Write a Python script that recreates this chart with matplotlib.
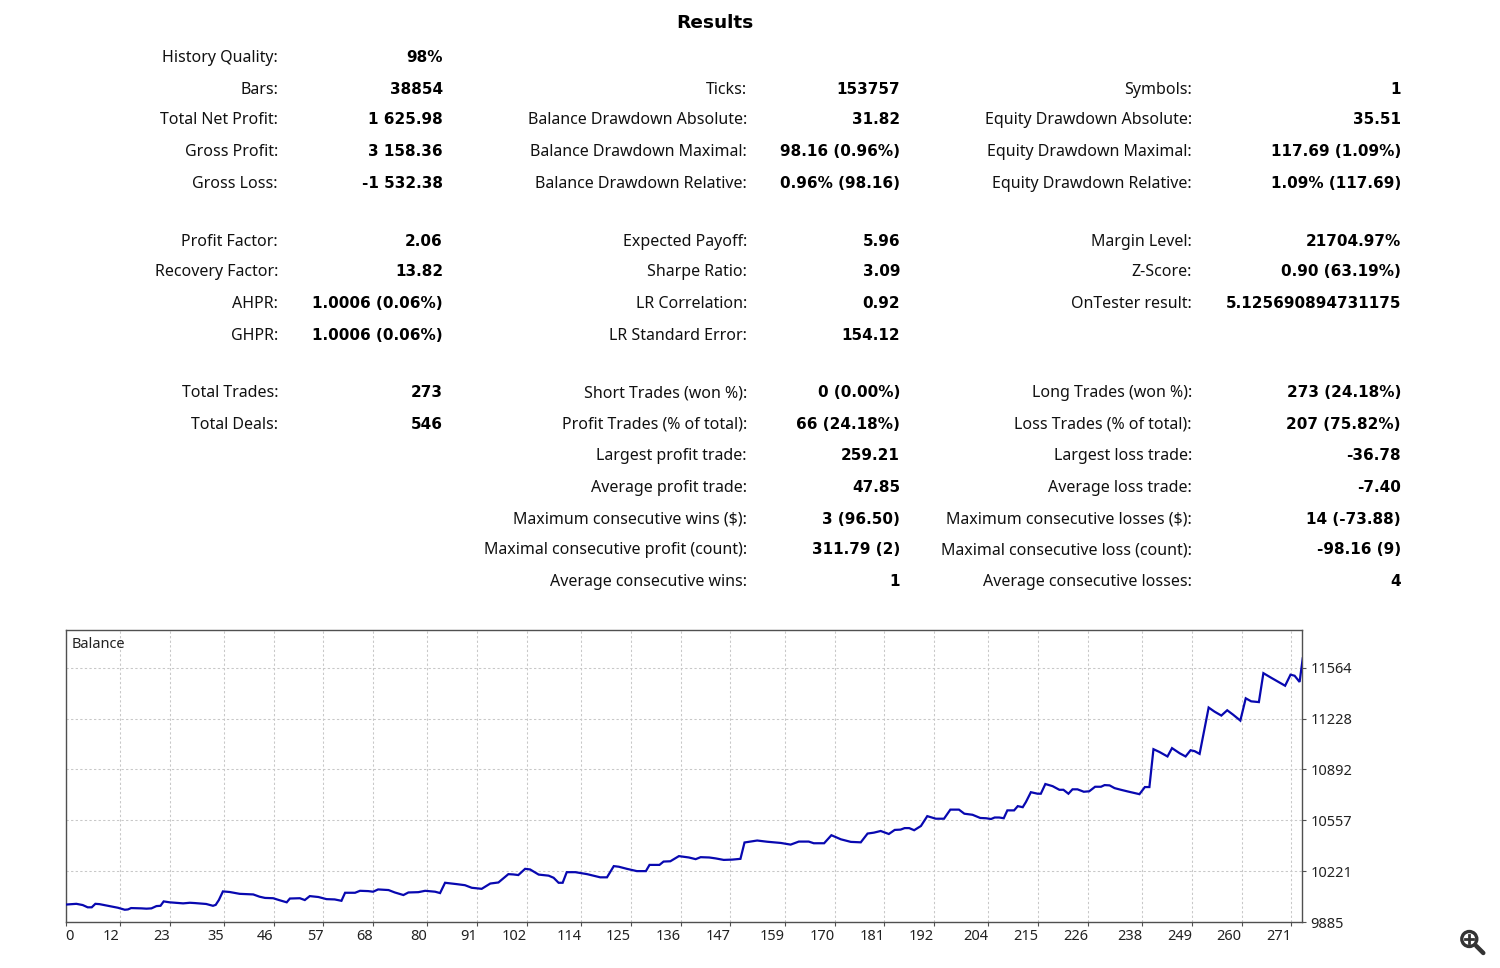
import matplotlib
matplotlib.use("Agg")
import matplotlib.pyplot as plt
from matplotlib.patches import Circle
from matplotlib.lines import Line2D

# ---------------- data ----------------
title = "Results"

col1_labels = ["History Quality:", "Bars:", "Total Net Profit:", "Gross Profit:", "Gross Loss:",
               "Profit Factor:", "Recovery Factor:", "AHPR:", "GHPR:",
               "Total Trades:", "Total Deals:"]
col1_values = ["98%", "38854", "1 625.98", "3 158.36", "-1 532.38",
               "2.06", "13.82", "1.0006 (0.06%)", "1.0006 (0.06%)",
               "273", "546"]
col1_rows = [0, 1, 2, 3, 4, 5, 6, 7, 8, 9, 10]

col2_labels = ["Ticks:", "Balance Drawdown Absolute:", "Balance Drawdown Maximal:", "Balance Drawdown Relative:",
               "Expected Payoff:", "Sharpe Ratio:", "LR Correlation:", "LR Standard Error:",
               "Short Trades (won %):", "Profit Trades (% of total):", "Largest profit trade:",
               "Average profit trade:", "Maximum consecutive wins ($):",
               "Maximal consecutive profit (count):", "Average consecutive wins:"]
col2_values = ["153757", "31.82", "98.16 (0.96%)", "0.96% (98.16)",
               "5.96", "3.09", "0.92", "154.12",
               "0 (0.00%)", "66 (24.18%)", "259.21",
               "47.85", "3 (96.50)", "311.79 (2)", "1"]
col2_rows = [1, 2, 3, 4, 5, 6, 7, 8, 9, 10, 11, 12, 13, 14, 15]

col3_labels = ["Symbols:", "Equity Drawdown Absolute:", "Equity Drawdown Maximal:", "Equity Drawdown Relative:",
               "Margin Level:", "Z-Score:", "OnTester result:",
               "Long Trades (won %):", "Loss Trades (% of total):", "Largest loss trade:",
               "Average loss trade:", "Maximum consecutive losses ($):",
               "Maximal consecutive loss (count):", "Average consecutive losses:"]
col3_values = ["1", "35.51", "117.69 (1.09%)", "1.09% (117.69)",
               "21704.97%", "0.90 (63.19%)", "5.125690894731175",
               "273 (24.18%)", "207 (75.82%)", "-36.78",
               "-7.40", "14 (-73.88)", "-98.16 (9)", "4"]
col3_rows = [1, 2, 3, 4, 5, 6, 7, 9, 10, 11, 12, 13, 14, 15]

chart_label = "Balance"
trades = [0, 2.4, 3.8, 4.9, 5.8, 6.6, 7.5, 9.7, 11.6, 13.1, 13.8, 14.5, 16.8, 17.9, 19.0, 20.1, 21.0,
          21.7, 23.0, 26.0, 27.5, 28.6, 31.1, 32.6, 33.2, 33.9, 34.8, 36.3, 38.5, 41.5, 42.9, 44.1,
          45.9, 47.4, 48.9, 49.6, 51.8, 52.9, 54.0, 55.9, 57.7, 59.5, 61.0, 61.8, 64.0, 65.1, 66.9,
          68.0, 69.1, 71.4, 72.8, 74.7, 75.8, 78.0, 79.5, 81.7, 82.8, 83.9, 86.5, 88.3, 89.8, 92.0,
          93.9, 95.7, 97.9, 99.0, 100.1, 101.6, 102.7, 104.6, 106.8, 107.9, 109.0, 109.9, 110.8,
          112.7, 115.3, 118.2, 119.7, 121.2, 122.3, 124.1, 126.3, 128.3, 129.1, 131.3, 132.2, 133.7,
          135.6, 137.8, 139.3, 140.4, 142.3, 143.7, 145.5, 147.4, 149.2, 150.1, 152.9, 155.1, 158.1,
          160.3, 162.1, 164.3, 165.4, 167.7, 169.3, 171.4, 173.6, 175.8, 177.3, 178.7, 180.2, 182.0,
          183.3, 184.6, 185.5, 186.5, 187.6, 189.1, 190.5, 192.4, 194.2, 195.6, 197.5, 198.7, 200.5,
          202.2, 203.5, 204.6, 205.4, 206.4, 207.4, 208.2, 209.7, 210.5, 211.6, 212.3, 213.4, 214.9,
          215.6, 216.6, 218.2, 219.7, 220.6, 221.7, 222.6, 223.7, 225.1, 226.3, 227.6, 228.9, 229.7,
          230.8, 231.9, 233.3, 234.8, 237.4, 238.6, 239.6, 240.5, 241.8, 243.6, 244.6, 246.3, 247.6,
          248.7, 249.6, 250.7, 252.7, 254.0, 255.5, 256.8, 258.1, 259.7, 260.9, 262.1, 263.8, 264.8,
          266.5, 269.6, 270.8, 271.7, 272.8, 273.5]
balance = [10000, 10005, 9997, 9982, 9982, 10005, 10003, 9990, 9979, 9966, 9968, 9977, 9975, 9973, 9975,
           9990, 9992, 10021, 10015, 10008, 10012, 10010, 10004, 9992, 9998, 10030, 10087, 10083, 10071,
           10067, 10052, 10044, 10042, 10028, 10015, 10040, 10042, 10030, 10056, 10050, 10036, 10034,
           10025, 10078, 10078, 10091, 10089, 10085, 10100, 10096, 10080, 10063, 10080, 10082, 10091,
           10085, 10076, 10144, 10135, 10128, 10111, 10104, 10139, 10146, 10201, 10199, 10195, 10236,
           10232, 10198, 10191, 10177, 10144, 10144, 10214, 10214, 10201, 10180, 10180, 10254, 10250,
           10236, 10221, 10221, 10262, 10262, 10284, 10286, 10320, 10311, 10300, 10313, 10311, 10305,
           10295, 10297, 10302, 10410, 10423, 10415, 10407, 10396, 10416, 10416, 10405, 10405, 10458,
           10431, 10414, 10411, 10469, 10475, 10486, 10466, 10493, 10495, 10505, 10505, 10491, 10519,
           10584, 10567, 10567, 10627, 10627, 10600, 10593, 10572, 10570, 10565, 10575, 10575, 10570,
           10622, 10622, 10650, 10643, 10677, 10742, 10732, 10732, 10796, 10782, 10758, 10758, 10732,
           10761, 10761, 10745, 10748, 10778, 10778, 10789, 10787, 10769, 10758, 10747, 10729, 10776,
           10776, 11026, 11008, 10978, 11033, 10999, 10978, 11019, 11013, 10995, 11301, 11274, 11248,
           11283, 11254, 11215, 11362, 11342, 11337, 11528, 11498, 11445, 11518, 11511, 11470, 11626]

x_ticks = [0, 12, 23, 35, 46, 57, 68, 80, 91, 102, 114, 125, 136, 147, 159, 170, 181, 192, 204,
           215, 226, 238, 249, 260, 271]
y_ticks = [9885, 10221, 10557, 10892, 11228, 11564]

# ---------------- layout ----------------
W, H = 1500, 968
fig = plt.figure(figsize=(W / 100, H / 100), dpi=100)
fig.patch.set_facecolor("white")

def fx(px):
    return px / W

def fy(py):
    return 1 - py / H

label_font = ["Noto Sans", "DejaVu Sans"]
value_font = ["DejaVu Sans"]
LFS = 11.5
VFS = 11.0
row_base = [61.5, 93.5, 124.5, 156.5, 187.5, 245.5, 276.5, 308.5, 339.5,
            397.5, 428.5, 460.5, 491.5, 523.5, 554.5, 586.5]

fig.text(fx(715), fy(28), title, ha="center", va="baseline", fontsize=13.3,
         fontweight="bold", family=value_font, color="#000000")

columns = [(col1_labels, col1_values, col1_rows, 278, 443),
           (col2_labels, col2_values, col2_rows, 747, 900),
           (col3_labels, col3_values, col3_rows, 1192, 1401)]
for labels, values, rows, lx, vx in columns:
    for lab, val, r in zip(labels, values, rows):
        fig.text(fx(lx), fy(row_base[r]), lab, ha="right", va="baseline",
                 fontsize=LFS, family=label_font, color="#111111")
        fig.text(fx(vx), fy(row_base[r]), val, ha="right", va="baseline",
                 fontsize=VFS, fontweight="bold", family=value_font, color="#000000")

# ---------------- chart ----------------
ax_l, ax_r, ax_t, ax_b = 65.5, 1302.3, 630, 922
ax = fig.add_axes([fx(ax_l), fy(ax_b), (ax_r - ax_l) / W, (ax_b - ax_t) / H])
ax.plot(trades, balance, color="#0808b0", linewidth=1.6, solid_joinstyle="miter", zorder=3)
ax.set_xlim(0, 273.4)
ax.set_ylim(9885, 11813)
ax.set_xticks(x_ticks)
ax.set_yticks(y_ticks)
ax.set_xticklabels([str(v) for v in x_ticks])
ax.set_yticklabels([str(v) for v in y_ticks])
for i, lbl in enumerate(ax.get_xticklabels()):
    lbl.set_ha("left" if i == 0 else "right")
ax.yaxis.tick_right()
ax.tick_params(axis="x", direction="out", length=3, width=0.8, color="#505050", pad=2,
               labelsize=10.5, labelcolor="#222222")
ax.tick_params(axis="y", direction="out", length=3, width=0.8, color="#505050", pad=3,
               labelsize=10.5, labelcolor="#222222")
for lbl in ax.get_xticklabels() + ax.get_yticklabels():
    lbl.set_family(label_font)
ax.grid(True, color="#c8c8c8", linestyle=(0, (2.2, 2.2)), linewidth=0.75)
ax.set_axisbelow(True)
for s in ax.spines.values():
    s.set_color("#505050")
    s.set_linewidth(1.0)
ax.text(0.005, 0.975, chart_label, transform=ax.transAxes, ha="left", va="top",
        fontsize=10.5, family=label_font, color="#222222")

# ---------------- magnifier icon ----------------
icol = "#333333"
cx, cy = 1469.3, 939
ic = Circle((cx / 100, (H - cy) / 100), 0.075, transform=fig.dpi_scale_trans,
            fill=False, edgecolor=icol, linewidth=2.4)
fig.add_artist(ic)
fig.add_artist(Line2D([fx(cx - 4), fx(cx + 4)], [fy(cy), fy(cy)], color=icol,
                      linewidth=2.0, transform=fig.transFigure))
fig.add_artist(Line2D([fx(cx), fx(cx)], [fy(cy - 4), fy(cy + 4)], color=icol,
                      linewidth=2.0, transform=fig.transFigure))
fig.add_artist(Line2D([fx(cx + 7), fx(cx + 14)], [fy(cy + 7), fy(cy + 14)], color=icol,
                      linewidth=3.2, solid_capstyle="round", transform=fig.transFigure))

fig.savefig("out.png", dpi=100, facecolor="white")
